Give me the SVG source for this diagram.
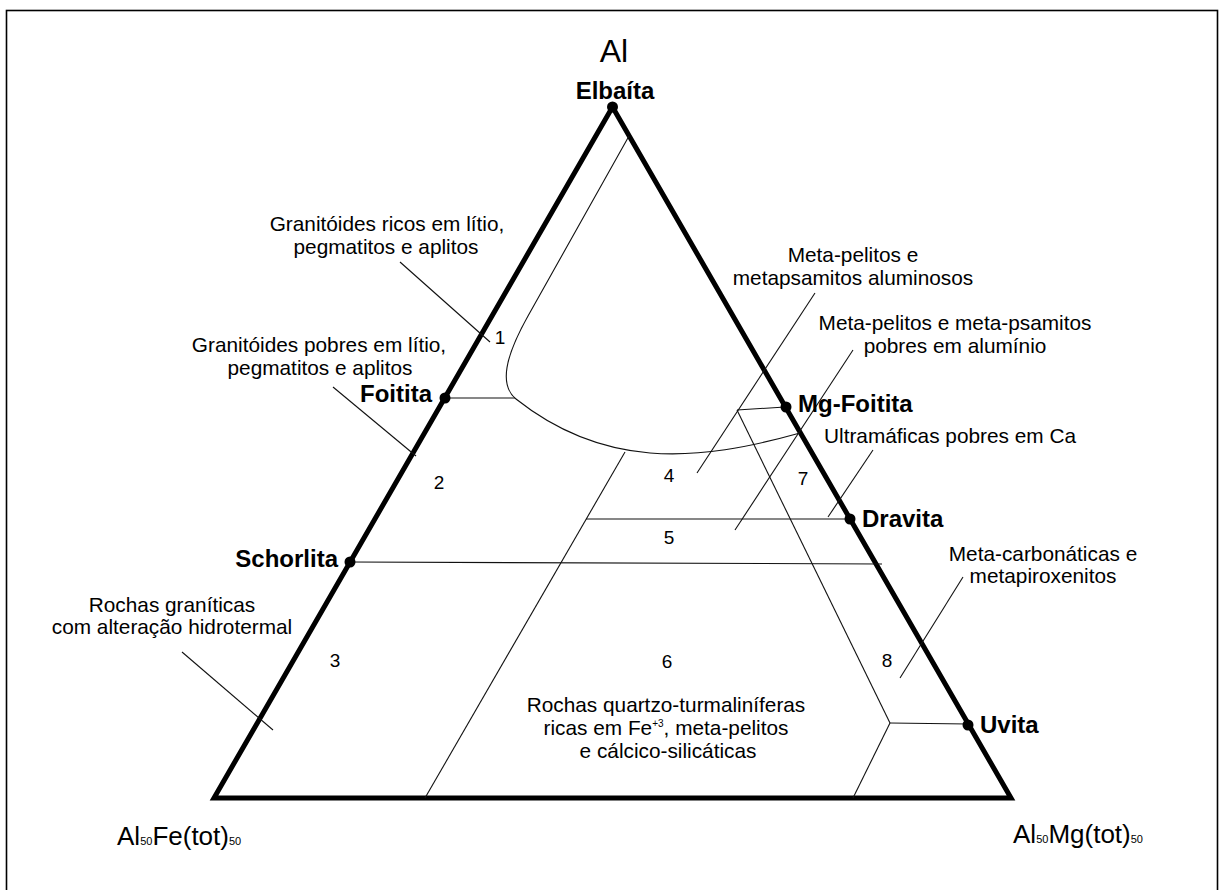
<svg xmlns="http://www.w3.org/2000/svg" width="1219" height="890" viewBox="0 0 1219 890">
<style>
.t{font-family:"Liberation Sans",Arial,sans-serif;font-size:20.8px;fill:#000}
.b{font-family:"Liberation Sans",Arial,sans-serif;font-size:24px;font-weight:bold;fill:#000}
.n{font-family:"Liberation Sans",Arial,sans-serif;font-size:19px;fill:#000}
.ax{font-family:"Liberation Sans",Arial,sans-serif;font-size:26px;fill:#000}
.thin{stroke:#111;stroke-width:1.1;fill:none}
.dot{fill:#000}
</style>
<rect x="0" y="0" width="1219" height="890" fill="#fff"/>
<rect x="6.5" y="10.5" width="1211" height="900" fill="none" stroke="#000" stroke-width="1.6"/>
<g id="triangle">
<polygon points="612.5,107 1011,798 214,798" fill="none" stroke="#000" stroke-width="5" stroke-linejoin="miter"/>
</g>
<g id="connectors">
<path class="thin" d="M629,136 L528,316 C505,357 499,385 516,399 C545,422 590,448 650,453 C700,457 750,447 800,433"/>
<line class="thin" x1="445" y1="398" x2="515" y2="398"/>
<line class="thin" x1="625" y1="452" x2="425" y2="798"/>
<line class="thin" x1="586" y1="519" x2="850" y2="519"/>
<line class="thin" x1="350" y1="562" x2="882" y2="564"/>
<line class="thin" x1="737" y1="410" x2="785" y2="407"/>
<line class="thin" x1="737" y1="410" x2="890" y2="723"/>
<line class="thin" x1="890" y1="723" x2="968" y2="724"/>
<line class="thin" x1="890" y1="723" x2="853" y2="798"/>
<line class="thin" x1="400" y1="262" x2="490" y2="342"/>
<line class="thin" x1="333" y1="387" x2="416" y2="456"/>
<line class="thin" x1="182" y1="652" x2="273" y2="730"/>
<line class="thin" x1="815" y1="293" x2="697" y2="473"/>
<line class="thin" x1="853" y1="350" x2="735" y2="530"/>
<line class="thin" x1="873" y1="450" x2="828" y2="517"/>
<line class="thin" x1="963" y1="577" x2="900" y2="678"/>
</g>
<g id="vertex-al"><text class="ax" x="614" y="62" text-anchor="middle" style="font-size:32px">Al</text></g>
<g id="elbaita"><circle class="dot" cx="612.5" cy="107" r="5.5"/><text class="b" x="615" y="99" text-anchor="middle">Elbaíta</text></g>
<g id="foitita"><circle class="dot" cx="445" cy="398" r="5.5"/><text class="b" x="432" y="402" text-anchor="end">Foitita</text></g>
<g id="schorlita"><circle class="dot" cx="350" cy="562" r="5.5"/><text class="b" x="338" y="567" text-anchor="end">Schorlita</text></g>
<g id="mg-foitita"><circle class="dot" cx="786" cy="407" r="5.5"/><text class="b" x="798" y="412">Mg-Foitita</text></g>
<g id="dravita"><circle class="dot" cx="850" cy="519" r="5.5"/><text class="b" x="862" y="527">Dravita</text></g>
<g id="uvita"><circle class="dot" cx="968" cy="725" r="5.5"/><text class="b" x="980" y="733">Uvita</text></g>
<g id="vertex-fe"><text class="ax" x="117" y="845">Al<tspan style="font-size:11px">50</tspan>Fe(tot)<tspan style="font-size:11px">50</tspan></text></g>
<g id="vertex-mg"><text class="ax" x="1013" y="843">Al<tspan style="font-size:11px">50</tspan>Mg(tot)<tspan style="font-size:11px">50</tspan></text></g>
<g id="label-1"><text class="t" text-anchor="middle"><tspan x="387" y="231">Granitóides ricos em lítio,</tspan><tspan x="386" y="254">pegmatitos e aplitos</tspan></text></g>
<g id="label-2"><text class="t" text-anchor="middle"><tspan x="319" y="352">Granitóides pobres em lítio,</tspan><tspan x="320" y="375">pegmatitos e aplitos</tspan></text></g>
<g id="label-3"><text class="t" text-anchor="middle"><tspan x="172" y="612">Rochas graníticas</tspan><tspan x="172" y="634">com alteração hidrotermal</tspan></text></g>
<g id="label-4"><text class="t" text-anchor="middle"><tspan x="853" y="262">Meta-pelitos e</tspan><tspan x="853" y="285">metapsamitos aluminosos</tspan></text></g>
<g id="label-5"><text class="t" text-anchor="middle"><tspan x="955" y="330">Meta-pelitos e meta-psamitos</tspan><tspan x="955" y="353">pobres em alumínio</tspan></text></g>
<g id="label-7"><text class="t" x="950" y="443" text-anchor="middle">Ultramáficas pobres em Ca</text></g>
<g id="label-8"><text class="t" text-anchor="middle"><tspan x="1043" y="561">Meta-carbonáticas e</tspan><tspan x="1043" y="583">metapiroxenitos</tspan></text></g>
<g id="label-6"><text class="t" text-anchor="middle"><tspan x="666" y="712">Rochas quartzo-turmaliníferas</tspan><tspan x="666" y="735">ricas em Fe<tspan dy="-8" style="font-size:10px">+3</tspan><tspan dy="8">, meta-pelitos</tspan></tspan><tspan x="668" y="758">e cálcico-silicáticas</tspan></text></g>
<g id="numbers">
<text class="n" x="500" y="344" text-anchor="middle">1</text>
<text class="n" x="439" y="489" text-anchor="middle">2</text>
<text class="n" x="335" y="667" text-anchor="middle">3</text>
<text class="n" x="669" y="482" text-anchor="middle">4</text>
<text class="n" x="669" y="544" text-anchor="middle">5</text>
<text class="n" x="667" y="668" text-anchor="middle">6</text>
<text class="n" x="803" y="485" text-anchor="middle">7</text>
<text class="n" x="887" y="667" text-anchor="middle">8</text>
</g>
</svg>
